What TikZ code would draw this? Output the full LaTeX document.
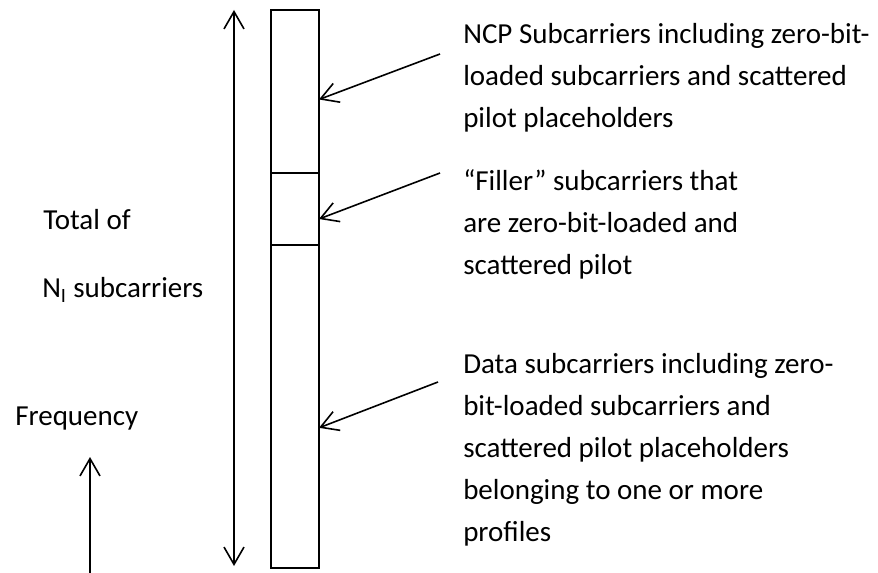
\documentclass[tikz,border=0pt]{standalone}
\usepackage{fontspec}
\setmainfont{Carlito}
\usetikzlibrary{arrows.meta,positioning}

\tikzset{
  seg/.style={draw, line width=0.9pt, inner sep=0pt, outer sep=0pt, minimum width=36pt, anchor=north west},
  lbl/.style={anchor=base west, inner sep=0pt, align=left, font=\fontsize{21.75}{31.5}\selectfont},
  ptr/.style={line width=1.2pt, ->},
}

\begin{document}
\begin{tikzpicture}[x=0.75pt,y=0.75pt,yscale=-1,xscale=1,>={Straight Barb[length=13pt,width=15pt]}]

\useasboundingbox (0,0) rectangle (878,573);

\node[seg, minimum height=122.25pt] (ncpBox) at (271,10) {};

\node[seg, minimum height=54pt, below=0pt of ncpBox] (fillerBox) {};

\node[seg, minimum height=242.25pt, below=0pt of fillerBox] (dataBox) {};



% base = last line
\node[lbl] (ncpText) at (463,128) {NCP Subcarriers including zero-bit-\\loaded subcarriers and scattered\\pilot placeholders};

\node[lbl] (fillerText) at (463,275) {“Filler” subcarriers that\\are zero-bit-loaded and\\scattered pilot};

\node[lbl] (dataText) at (463,541) {Data subcarriers including zero-\\bit-loaded subcarriers and\\scattered pilot placeholders\\belonging to one or more\\profiles};

\node[lbl] (totalText) at (43,230) {Total of};

\node[lbl] (countText) at (42,298) {N\textsubscript{I} subcarriers};

\node[lbl] (freqText) at (15,426) {Frequency};



\coordinate (ncpTail) at (440,54);
\coordinate (fillerTail) at (440,173);
\coordinate (dataTail) at (438,382);
\coordinate (spanTop) at (234,10);
\coordinate (spanBot) at (234,566);
\coordinate (freqTail) at (90,573);
\coordinate (freqTip) at (90,457);

\draw[ptr] (ncpTail) -- ([yshift=6pt]ncpBox.east);

\draw[ptr] (fillerTail) -- ([yshift=7.5pt]fillerBox.east);

\draw[ptr] (dataTail) -- ([yshift=16pt]dataBox.east);

\draw[ptr, <->] (spanTop) -- (spanBot);

\draw[ptr] (freqTail) -- (freqTip);

\end{tikzpicture}
\end{document}
